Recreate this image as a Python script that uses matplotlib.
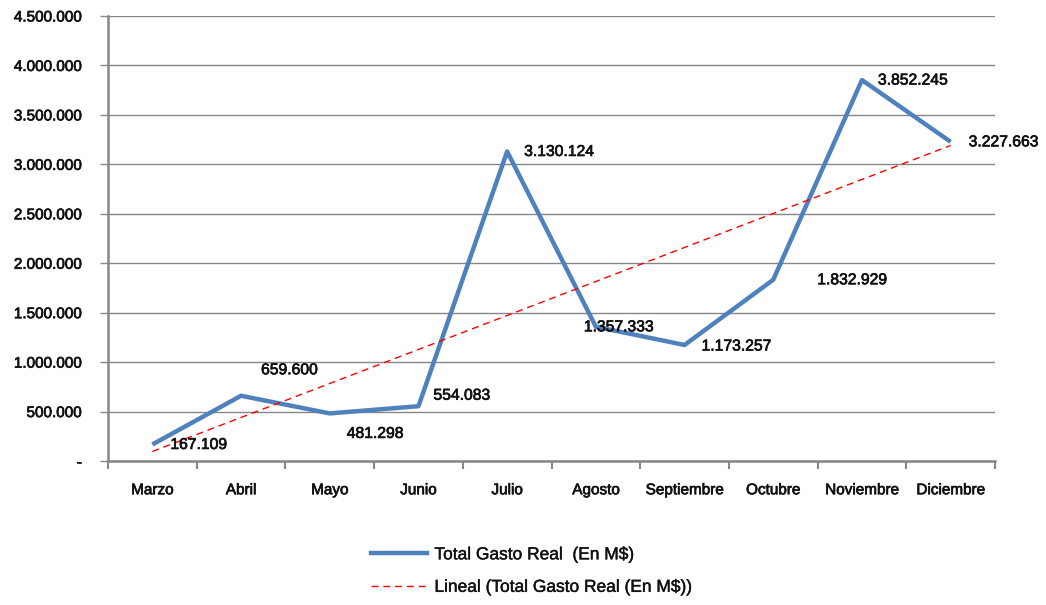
import matplotlib
matplotlib.use("Agg")
import matplotlib.pyplot as plt
import matplotlib.patheffects as pe
import numpy as np
from matplotlib.lines import Line2D

months = ["Marzo", "Abril", "Mayo", "Junio", "Julio", "Agosto", "Septiembre",
          "Octubre", "Noviembre", "Diciembre"]
gasto = [167109, 659600, 481298, 554083, 3130124, 1357333, 1173257,
         1832929, 3852245, 3227663]
y_ticks = [0, 500000, 1000000, 1500000, 2000000, 2500000, 3000000, 3500000,
           4000000, 4500000]

def fmt(v):
    if v == 0:
        return "-"
    return f"{v:,.0f}".replace(",", ".")

plt.rcParams['font.family'] = ['Liberation Sans', 'DejaVu Sans']
fig = plt.figure(figsize=(10.46, 6.05), dpi=100)
ax = fig.add_axes([108/1046, 144/605, 887/1046, 445/605])

x = np.arange(len(months))
grid_c = "#868686"
txt_c = "#111111"
thick = [pe.withStroke(linewidth=0.5, foreground=txt_c)]
for t in y_ticks:
    ax.axhline(t, color=grid_c, lw=1.0, zorder=1)

ax.plot(x, gasto, color="#4F81BD", lw=3.2, zorder=3, solid_capstyle="butt")
coef = np.polyfit(x + 1, gasto, 1)
trend = np.polyval(coef, x + 1)
ax.plot(x, trend, color="#FF0000", lw=1.0, ls=(0, (5, 3.5)), zorder=4)

# data labels (offsets in pixels)
offsets_px = [(18, 0), (20, 26), (17, -20), (15, 11), (17, 0), (-12, 0),
              (17, -1), (44, 0), (16, 0), (18, 0)]
for xi, v, (dx, dy) in zip(x, gasto, offsets_px):
    ax.annotate(fmt(v), (xi, v), xytext=(dx * 0.72, dy * 0.72),
                textcoords="offset points", ha="left", va="center",
                fontsize=11.3, color=txt_c, zorder=5, path_effects=thick)

ax.set_xlim(-0.5, len(months) - 0.5)
ax.set_ylim(0, 4500000)
ax.set_yticks(y_ticks)
ax.set_yticklabels([fmt(t) for t in y_ticks], fontsize=11, color=txt_c)
ax.set_xticks(x)
ax.set_xticklabels(months, fontsize=11, color=txt_c)
for lbl in ax.get_xticklabels() + ax.get_yticklabels():
    lbl.set_path_effects(thick)
ax.set_xticks(np.arange(-0.5, len(months)), minor=True)
ax.tick_params(axis="x", which="major", length=0, pad=16)
ax.tick_params(axis="x", which="minor", length=6, color=grid_c, width=1.5)
ax.tick_params(axis="y", length=6, color=grid_c, width=1.0, pad=13)

for s in ["top", "right"]:
    ax.spines[s].set_visible(False)
ax.spines["left"].set_color(grid_c)
ax.spines["left"].set_linewidth(1.8)
ax.spines["bottom"].set_color(grid_c)
ax.spines["bottom"].set_linewidth(1.8)

handles = [Line2D([], [], color="#4F81BD", lw=3.2),
           Line2D([], [], color="#FF0000", lw=1.0, ls=(0, (5, 3.5)))]
labels = ["Total Gasto Real  (En M$)", "Lineal (Total Gasto Real (En M$))"]
leg = fig.legend(handles, labels, loc="center",
                 bbox_to_anchor=(532/1046, 1 - 571/605),
                 frameon=False, fontsize=12.5, handlelength=3.2,
                 labelspacing=1.0, handletextpad=0.45)
for t in leg.get_texts():
    t.set_color(txt_c)
    t.set_path_effects([pe.withStroke(linewidth=0.3, foreground=txt_c)])

fig.savefig("out.png", dpi=100)
